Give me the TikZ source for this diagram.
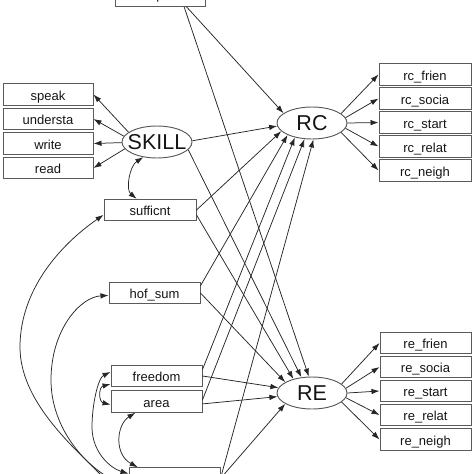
\documentclass[tikz,border=0pt]{standalone}
\usepackage{fontspec}
\setmainfont{Liberation Sans}
\usetikzlibrary{arrows.meta,shapes.geometric}
\definecolor{boxgray}{HTML}{5A5A5A}
\definecolor{linec}{HTML}{262626}
\definecolor{txt}{HTML}{141414}
\begin{document}
\begin{tikzpicture}[x=1pt,y=-1pt,
  obs/.style={draw=boxgray, line width=0.95pt, rectangle, minimum width=91pt,
    minimum height=21.5pt, inner sep=0pt, font=\fontsize{13}{13}\selectfont,
    text height=11pt, text depth=0pt, text=txt},
  lat/.style={draw=boxgray, line width=0.95pt, ellipse, minimum width=70pt,
    minimum height=32pt, inner sep=0pt},
  latlab/.style={font=\fontsize{21.5}{21.5}\selectfont, text=txt, inner sep=0pt},
  reg/.style={draw=linec, line width=0.75pt, -{Latex[length=8pt,width=5.5pt]}},
  cov/.style={draw=linec, line width=0.75pt,
    {Latex[length=8pt,width=5.5pt]}-{Latex[length=8pt,width=5.5pt]}},
]
\useasboundingbox (0,0) rectangle (474,474);
\clip (0,0) rectangle (474,474);

% observed exogenous
\node[obs, minimum width=90pt] (top) at (160,-4.5) {\raisebox{1.5pt}{p}};
\node[obs] (bot) at (174.5,478.5) {};
\node[obs, minimum width=92pt] (suff) at (150,210) {sufficnt};
\node[obs] (hof) at (154.5,293) {hof\_sum};
\node[obs] (free) at (156.5,376) {freedom};
\node[obs] (area) at (156.5,401.5) {area};

% SKILL and indicators
\node[lat, label={[latlab]center:SKILL}] (skill) at (157,142) {};
\node[obs, minimum width=90pt] (speak) at (48,94.5) {speak};
\node[obs, minimum width=90pt] (unders) at (48,119) {understa};
\node[obs, minimum width=90pt] (write) at (48,143.5) {write};
\node[obs, minimum width=90pt] (read) at (48,168) {read};

% RC / RE
\node[lat, label={[latlab]center:RC}] (rc) at (312,123) {};
\node[lat, label={[latlab]center:RE}] (re) at (312,393) {};

\node[obs, minimum width=92pt] (rcf) at (425,74.5) {rc\_frien};
\node[obs, minimum width=92pt] (rcs) at (425,98.5) {rc\_socia};
\node[obs, minimum width=92pt] (rcst) at (425,122.5) {rc\_start};
\node[obs, minimum width=92pt] (rcr) at (425,146.5) {rc\_relat};
\node[obs, minimum width=92pt] (rcn) at (425,170.5) {rc\_neigh};

\node[obs] (ref) at (425.5,343) {re\_frien};
\node[obs] (res) at (425.5,367) {re\_socia};
\node[obs] (rest) at (425.5,391) {re\_start};
\node[obs] (rer) at (425.5,415) {re\_relat};
\node[obs] (ren) at (425.5,439.5) {re\_neigh};

% SKILL -> indicators
\draw[reg] (skill.161) -- (speak.east);
\draw[reg] (skill.170) -- (unders.east);
\draw[reg] (skill.181) -- (write.east);
\draw[reg] (skill.192) -- (read.east);

% RC -> indicators
\draw[reg] (rc.18) -- (rcf.west);
\draw[reg] (rc.9) -- (rcs.west);
\draw[reg] (rc.0) -- (rcst.west);
\draw[reg] (rc.-9) -- (rcr.west);
\draw[reg] (rc.-18) -- (rcn.west);

% RE -> indicators
\draw[reg] (re.17) -- (ref.west);
\draw[reg] (re.8) -- (res.west);
\draw[reg] (re.0) -- (rest.west);
\draw[reg] (re.-8) -- (rer.west);
\draw[reg] (re.-17) -- (ren.west);

% predictors -> RC
\draw[reg] (top.-23) -- (rc.161);
\draw[reg] (skill.2) -- (rc.185);
\draw[reg] (suff.east) -- (rc.195);
\draw[reg] (hof.9) -- (rc.206);
\draw[reg] (free.8) -- (rc.220);
\draw[reg] (area.2) -- (rc.245);
\draw[reg] (bot.east) -- (rc.275);

% predictors -> RE
\draw[reg] (top.-25.5) -- (re.101);
\draw[reg] (skill.-14) -- (re.124);
\draw[reg] (suff.-6) -- (re.143);
\draw[reg] (hof.east) -- (re.158);
\draw[reg] (free.east) -- (re.171);
\draw[reg] (area.-3) -- (re.186);
\draw[reg] (bot.east) -- (re.202);

% covariances
\draw[cov] (skill.228) .. controls +(-14,9) and +(-11,-9) .. (suff.140);
\draw[cov] (free.190) .. controls +(-12,3) and +(-12,-3) .. (area.184);
\draw[cov] (area.208) .. controls +(-19,12) and +(-24,-13) .. (bot.163);
\draw[cov] (suff.186) .. controls (60,245) and (20,290) .. (20,347)
   .. controls (20,400) and (70,444) .. (100,474)
   .. controls (112,486) and (120,488) .. (bot.190);
\draw[cov] (hof.183) .. controls (80,297) and (51,330) .. (51,380)
   .. controls (51,420) and (75,455) .. (103,474)
   .. controls (112,480) and (120,482) .. (bot.184);
\draw[cov] (free.175) .. controls (98,378) and (92,405) .. (92,427)
   .. controls (92,452) and (110,468) .. (bot.174);
\end{tikzpicture}
\end{document}
